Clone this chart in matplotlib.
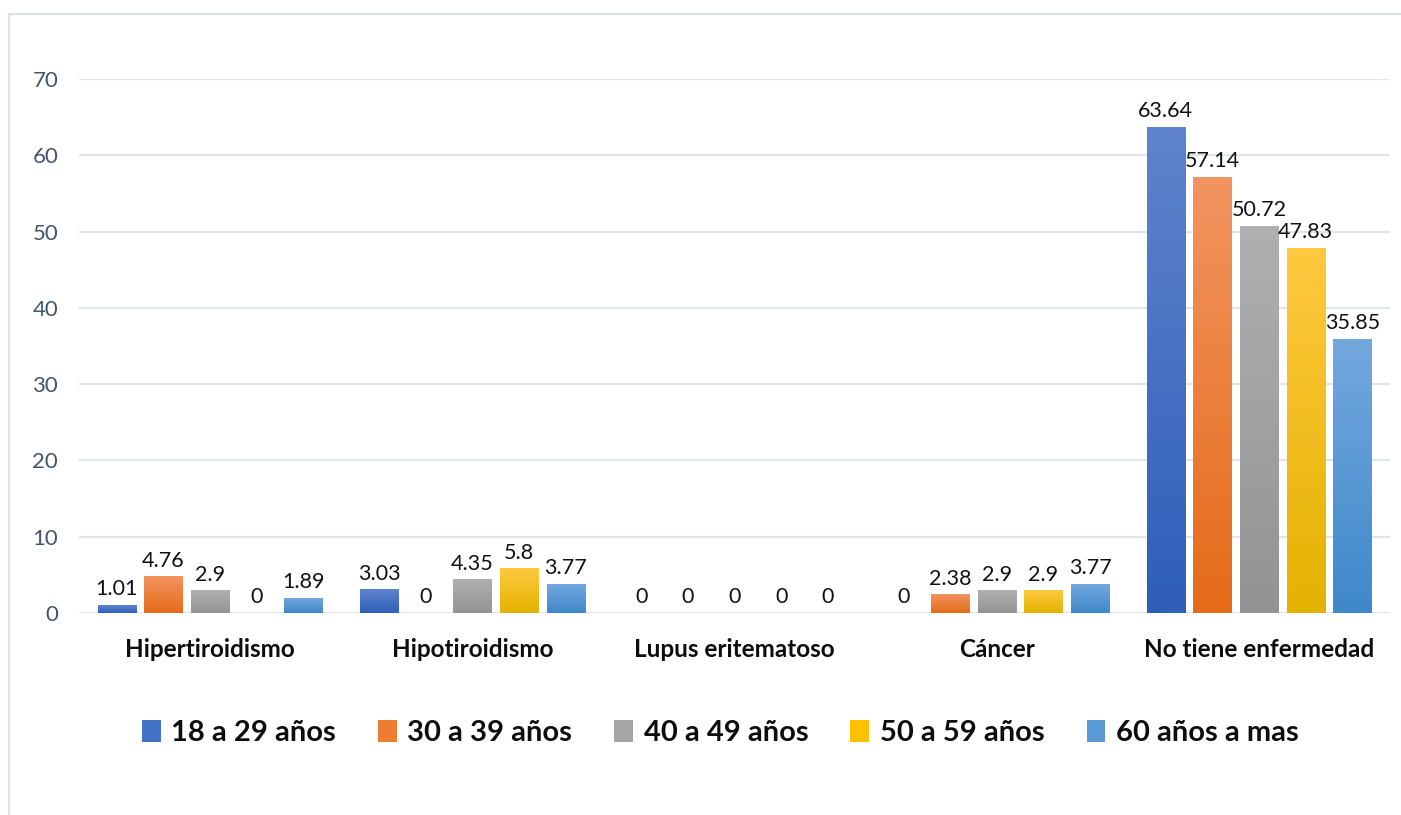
import numpy as np
import matplotlib
matplotlib.use("Agg")
import matplotlib.pyplot as plt
from matplotlib.patches import Patch, Rectangle
from matplotlib.colors import to_rgb

plt.rcParams['font.family'] = ['Lato', 'DejaVu Sans']

# data
categories = ["Hipertiroidismo", "Hipotiroidismo", "Lupus eritematoso", "Cáncer", "No tiene enfermedad"]
series = ["18 a 29 años", "30 a 39 años", "40 a 49 años", "50 a 59 años", "60 años a mas"]
v_18_29 = [1.01, 3.03, 0, 0, 63.64]
v_30_39 = [4.76, 0, 0, 2.38, 57.14]
v_40_49 = [2.9, 4.35, 0, 2.9, 50.72]
v_50_59 = [0, 5.8, 0, 2.9, 47.83]
v_60_mas = [1.89, 3.77, 0, 3.77, 35.85]
values = [v_18_29, v_30_39, v_40_49, v_50_59, v_60_mas]

# gradient colours (top, bottom) per series, Excel style
grad = [("#5F84CC", "#2F5EB9"),
        ("#F29461", "#E56B19"),
        ("#B0B0B0", "#939393"),
        ("#FFC93F", "#E3B200"),
        ("#73A8DE", "#3F88CA")]
mid = ["#4472C4", "#ED7D31", "#A5A5A5", "#FFC000", "#5B9BD5"]

fig = plt.figure(figsize=(14.01, 8.15), dpi=100)
ax = fig.add_axes([79 / 1401, 1 - 613 / 815, (1390 - 79) / 1401, (613 - 79) / 815])

# outer chart border (clipped at right/bottom like the original)
fig.patches.append(Rectangle((9 / 1401, -0.1), 1.2, 1 - 13.5 / 815 + 0.1, transform=fig.transFigure,
                             fill=False, edgecolor="#DDE1E8", linewidth=1.6, zorder=0))

x = np.arange(len(categories))
step = 0.178
width = 0.145
for j, vals in enumerate(values):
    top = np.array(to_rgb(grad[j][0]))
    bot = np.array(to_rgb(grad[j][1]))
    for i, v in enumerate(vals):
        xc = x[i] + (j - 2) * step
        if v > 0:
            t = np.linspace(0, 1, 64)[:, None]
            img = (top * (1 - t) + bot * t)[:, None, :]
            ax.imshow(img, extent=[xc - width / 2, xc + width / 2, 0, v], aspect="auto",
                      interpolation="bilinear", zorder=2)
        ax.text(xc, v + 0.8, f"{v:g}", ha="center", va="bottom", fontsize=15.5, color="#111111", zorder=3)

ax.set_xlim(-0.5, len(categories) - 0.5)
ax.set_ylim(0, 70)
ax.set_yticks(range(0, 71, 10))
ax.yaxis.grid(True, color="#E1E4EA", linewidth=1.6)
ax.set_axisbelow(True)
for s in ax.spines.values():
    s.set_visible(False)
ax.tick_params(axis="y", length=0, labelsize=16, labelcolor="#44546A", pad=15)
ax.tick_params(axis="x", length=0, pad=18)
ax.set_xticks(x)
ax.set_xticklabels(categories, fontsize=17.5, fontweight="bold", color="#0D0D0D")

handles = [Patch(facecolor=mid[j], label=series[j]) for j in range(len(series))]
fig.legend(handles=handles, loc="center", bbox_to_anchor=(0.514, 1 - 733 / 815), ncol=5,
           frameon=False, prop={"size": 21, "weight": "bold"}, handlelength=0.65, handleheight=0.75,
           handletextpad=0.35, columnspacing=1.45, labelcolor="#0D0D0D")

fig.savefig("out.png", dpi=100)
